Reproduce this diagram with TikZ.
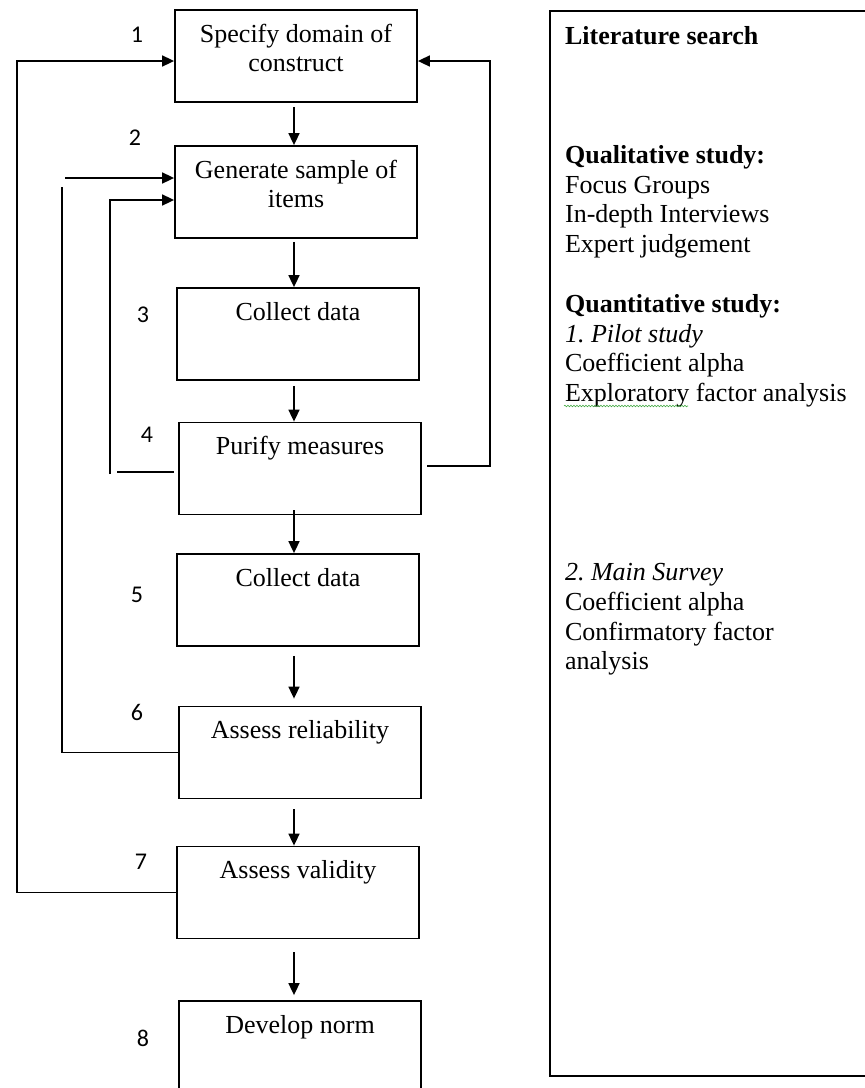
\documentclass[tikz,border=0pt]{standalone}
\usepackage{fontspec}
\setmainfont{Liberation Serif}
\newfontfamily\numfont{Carlito}
\usetikzlibrary{arrows.meta,decorations.pathmorphing}
\frenchspacing
\newcommand{\bxt}[1]{\parbox[c][92pt][t]{242pt}{\centering\fontsize{26}{29.8}\selectfont\rule{0pt}{32pt}#1}}
\definecolor{spell}{RGB}{70,170,70}
\begin{document}
\begin{tikzpicture}[x=1pt,y=-1pt,
  box/.style={draw,line width=1.8pt,inner sep=0pt},
  num/.style={font=\numfont\fontsize{24}{24}\selectfont,inner sep=0pt},
  fb/.style={line width=1.7pt},
  arr/.style={line width=1.7pt,-{Triangle[length=12pt,width=11pt]}}]
\useasboundingbox (0,0) rectangle (865,1088);
\clip (0,0) rectangle (865,1088);
% boxes
\node[box] (b1) at (296,56) {\bxt{Specify domain of\\construct}};
\node[box] (b2) at (296,192) {\bxt{Generate sample of\\items}};
\node[box] (b3) at (298,334) {\bxt{Collect data}};
\node[box] (b4) at (300,468.5) {\bxt{Purify measures}};
\node[box] (b5) at (298,600) {\bxt{Collect data}};
\node[box] (b6) at (300,752.5) {\bxt{Assess reliability}};
\node[box] (b7) at (298,892.5) {\bxt{Assess validity}};
\node[box] (b8) at (300,1047) {\bxt{Develop norm}};
% numbers
\node[num] (n1) at (137,35) {1};
\node[num] (n2) at (135,138) {2};
\node[num] (n3) at (143,315) {3};
\node[num] (n4) at (147,435) {4};
\node[num] (n5) at (137,595) {5};
\node[num] (n6) at (137,712) {6};
\node[num] (n7) at (141,862) {7};
\node[num] (n8) at (143,1038) {8};
% literature box
\node[draw,line width=2.2pt,inner sep=0pt,anchor=north west] (lit) at (549,10)
 {\parbox[c][1065pt][t]{330pt}{\fontsize{26}{29.8}\selectfont\raggedright\leftskip=15pt
 \rule{0pt}{33pt}\textbf{Literature search}\\
 \mbox{}\\ \mbox{}\\ \mbox{}\\
 \textbf{Qualitative study:}\\
 Focus Groups\\
 In-depth Interviews\\
 Expert judgement\\
 \mbox{}\\
 \textbf{Quantitative study:}\\
 \textit{1. Pilot study}\\
 Coefficient alpha\\
 Exploratory factor analysis\\
 \mbox{}\\ \mbox{}\\ \mbox{}\\ \mbox{}\\ \mbox{}\\
 \textit{2. Main Survey}\\
 Coefficient alpha\\
 Confirmatory factor\\
 analysis}};
\draw[spell,line width=0.6pt,decorate,decoration={snake,amplitude=0.8pt,segment length=3pt}] (564,406) -- (688,406);
% down arrows
\coordinate (ax) at (294,0);
\draw[arr] ([yshift=-4pt]b1.south -| ax) -- (b2.north -| ax);
\draw[arr] ([yshift=-3pt]b2.south -| ax) -- (b3.north -| ax);
\draw[arr] ([yshift=-5pt]b3.south -| ax) -- (b4.north -| ax);
\draw[arr] ([yshift=5pt]b4.south -| ax) -- (b5.north -| ax);
\draw[arr] ([yshift=-9pt]b5.south -| ax) -- ([yshift=7pt]b6.north -| ax);
\draw[arr] ([yshift=-10pt]b6.south -| ax) -- (b7.north -| ax);
\draw[arr] ([yshift=-13pt]b7.south -| ax) -- ([yshift=5pt]b8.north -| ax);
% outer feedback: validity -> domain
\coordinate (xo) at (17,0);
\draw[arr] (b7.west) -- (b7.west -| xo) -- ([yshift=-5pt]b1.west -| xo) -- ([yshift=-5pt]b1.west);
% middle feedback: reliability -> items
\coordinate (m1) at (62,187);
\coordinate (m2) at (65,178);
\draw[fb] (b6.west) -- (b6.west -| m1) -- (m1);
\draw[arr] (m2) -- (m2 -| b2.west);
% inner feedback: purify -> items
\coordinate (i0) at (117,472);
\coordinate (i1) at (110,474);
\coordinate (i2) at (110,200);
\draw[fb] (i0) -- ([xshift=-4pt]i0 -| b4.west);
\draw[arr] (i1) -- (i2) -- (i2 -| b2.west);
% right feedback: purify -> domain
\coordinate (r0) at (427,466);
\coordinate (r1) at (490,466);
\coordinate (r2) at (490,61);
\draw[arr] (r0) -- (r1) -- (r2) -- (r2 -| b1.east);
\end{tikzpicture}
\end{document}
